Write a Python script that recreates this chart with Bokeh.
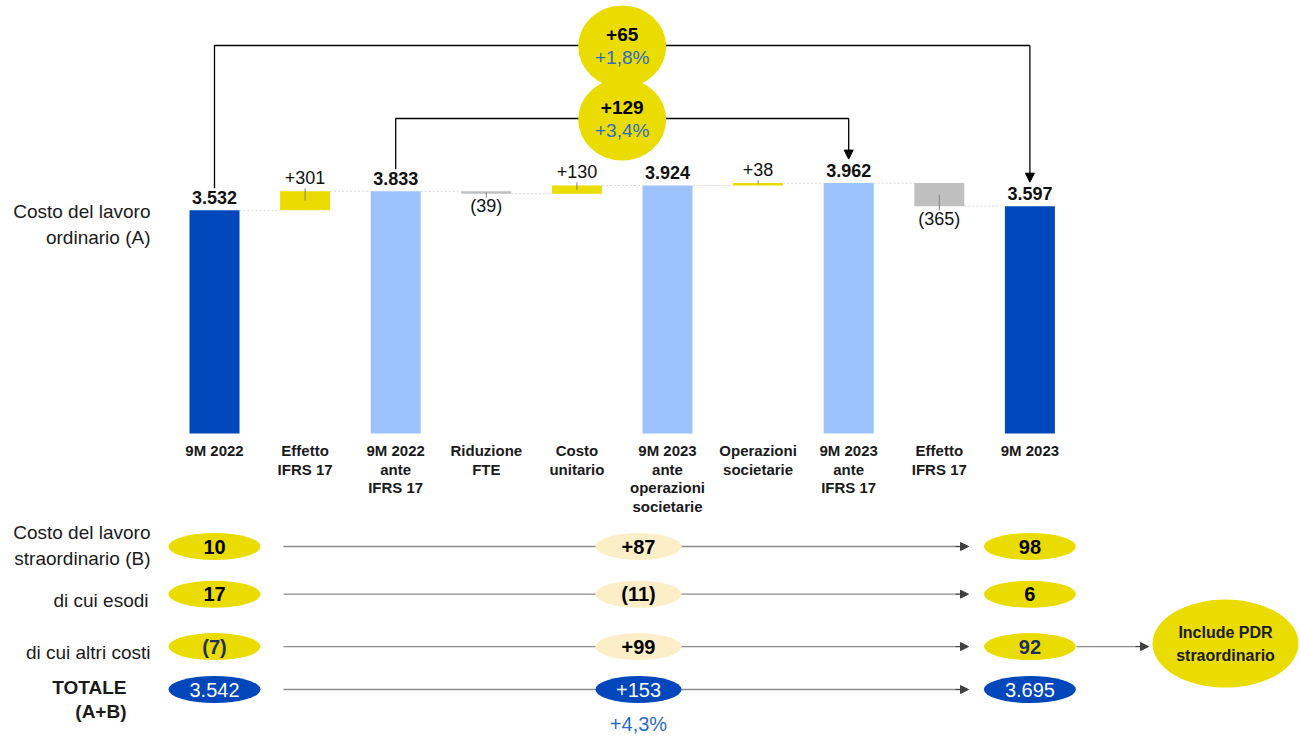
from bokeh.plotting import figure
from bokeh.models import Range1d, Arrow, NormalHead
from bokeh.embed import file_html
from bokeh.resources import INLINE
from bokeh.core.properties import value

# ---------------- DATA ----------------
categories = ["9M 2022", "Effetto\nIFRS 17", "9M 2022\nante\nIFRS 17", "Riduzione\nFTE",
              "Costo\nunitario", "9M 2023\nante\noperazioni\nsocietarie", "Operazioni\nsocietarie",
              "9M 2023\nante\nIFRS 17", "Effetto\nIFRS 17", "9M 2023"]
amounts = [3532, 301, 3833, -39, 130, 3924, 38, 3962, -365, 3597]
kinds = ["total", "delta", "subtotal", "delta", "delta", "subtotal", "delta", "subtotal", "delta", "total"]
bracket_pairs = [(0, 9), (2, 7)]
waterfall_title = ["Costo del lavoro", "ordinario (A)"]

row_labels = [["Costo del lavoro", "straordinario (B)"], ["di cui esodi"], ["di cui altri costi"], ["TOTALE", "(A+B)"]]
extra_2022 = [10, 17, -7, 3542]
extra_delta = [87, -11, 99, 153]
extra_2023 = [98, 6, 92, 3695]
note_lines = ["Include PDR", "straordinario"]
note_row = 2

# ---------------- LAYOUT ----------------
W, H = 1300, 736
FONT = value("Liberation Sans")
SLOT = 90.6
X0 = 214.0            # px of first category centre
PXU = 0.0632          # px per value unit
BASE = 433.0          # px (from top) of value 0
ROW0 = 546.0
ROW_STEP = 47.67
row_pos = [0, 1, 2.1, 3]
BAR_W = 50 / SLOT

YELLOW = "#EBDC00"
CREAM = "#FCEFC7"
DARK = "#0047BB"
LIGHT = "#9DC3FF"
GREY = "#BFBFBF"
PCT_BLUE = "#2E6BC6"
LINE_GREY = "#8C8C8C"
HEAD_GREY = "#404040"


def dy(px):
    return px / PXU


def ylev(px):
    return (BASE - px) / PXU


def rdy(px):
    return px / ROW_STEP


def xs(px):
    return (px - X0) / SLOT


def num(n):
    s = f"{abs(n):,}".replace(",", ".")
    return f"({s})" if n < 0 else s


def delta(n):
    s = f"{abs(n):,}".replace(",", ".")
    return f"({s})" if n < 0 else "+" + s


p = figure(width=W, height=H, output_backend="svg", toolbar_location=None,
           x_range=Range1d(-X0 / SLOT, (W - X0) / SLOT),
           y_range=Range1d(-(H - BASE) / PXU, BASE / PXU),
           min_border=0, min_border_left=0, min_border_right=0,
           min_border_top=0, min_border_bottom=0)
p.extra_y_ranges = {"rows": Range1d((H - ROW0) / ROW_STEP, -ROW0 / ROW_STEP)}
p.xaxis.visible = False
p.yaxis.visible = False
p.grid.visible = False
p.outline_line_color = None
p.background_fill_color = "white"
p.border_fill_color = "white"


def txt(x, y, s, size=18, bold=False, color="#111111", align="center", rng="default"):
    kw = {}
    if rng != "default":
        kw["y_range_name"] = rng
    p.text(x=[x], y=[y], text=[s], text_font=FONT, text_font_size=f"{size}px",
           text_font_style="bold" if bold else "normal", text_color=color,
           text_align=align, text_baseline="middle", **kw)


def head(x0, x1, y, rng="default", color=HEAD_GREY, size=8):
    kw = {}
    if rng != "default":
        kw["y_range_name"] = rng
    p.add_layout(Arrow(x_start=x0, y_start=y, x_end=x1, y_end=y, line_color=color,
                       line_width=1, end=NormalHead(size=size, fill_color=color, line_color=color),
                       **kw))


# ---------------- WATERFALL ----------------
bottoms, tops, colors, levels = [], [], [], []
running = 0
for v, k in zip(amounts, kinds):
    if k == "delta":
        b, t = min(running, running + v), max(running, running + v)
        running += v
        colors.append(YELLOW if v >= 0 else GREY)
    else:
        b, t = 0, v
        running = v
        colors.append(DARK if k == "total" else LIGHT)
    bottoms.append(b)
    tops.append(t)
    levels.append(running)

idx = list(range(len(amounts)))

# dotted connectors
for i in idx[:-1]:
    p.line([i + BAR_W / 2, i + 1 - BAR_W / 2], [levels[i], levels[i]],
           line_color="#D8D8D8", line_width=1, line_dash="2 2")

p.vbar(x=idx, width=BAR_W, bottom=bottoms, top=tops, fill_color=colors, line_color=None)

for i, (v, k) in enumerate(zip(amounts, kinds)):
    if k != "delta":
        txt(i, tops[i] + dy(13), num(v), size=18, bold=True)
    else:
        h_px = (tops[i] - bottoms[i]) * PXU
        if v >= 0:
            txt(i, tops[i] + dy(14), delta(v), size=18)
            p.segment([i], [tops[i] + dy(3)], [i], [tops[i] - dy(min(10, h_px / 2))],
                      line_color="#808080", line_width=1)
        else:
            txt(i, bottoms[i] - dy(12.5), delta(v), size=18)
            p.segment([i], [bottoms[i] - dy(4)], [i], [bottoms[i] + dy(min(12, h_px / 2))],
                      line_color="#808080", line_width=1)

# category labels
for i, c in enumerate(categories):
    for j, line in enumerate(c.split("\n")):
        txt(i, ylev(450 + j * 18.7), line, size=15, bold=True, color="#1A1A1A")

# left title
txt(xs(150), ylev(211), waterfall_title[0], size=19, align="right", color="#1A1A1A")
txt(xs(150), ylev(237), waterfall_title[1], size=19, align="right", color="#1A1A1A")

# brackets
bracket_levels = [45, 118]
for (s, e), lev_px in zip(bracket_pairs, bracket_levels):
    yl = ylev(lev_px)
    p.line([s, s, e], [tops[s] + dy(22), yl, yl], line_color="black", line_width=1.3)
    p.add_layout(Arrow(x_start=e, y_start=yl, x_end=e, y_end=tops[e] + dy(24),
                       line_color="black", line_width=1.3,
                       end=NormalHead(size=9, fill_color="black", line_color="black")))
    mid = (s + e) / 2
    diff = amounts[e] - amounts[s]
    pct = diff / amounts[s] * 100
    p.ellipse(x=[mid], y=[yl - dy(1)], width=[88], height=[82], width_units="screen",
              height_units="screen", fill_color=YELLOW, line_color=None)
    txt(mid, yl + dy(11), delta(diff), size=19, bold=True, color="black")
    txt(mid, yl - dy(12), ("+" if pct >= 0 else "") + f"{pct:.1f}%".replace(".", ","),
        size=19, color=PCT_BLUE)

# ---------------- TABLE ----------------
XL, XM, XR = 0, xs(638), 9
for r in range(4):
    y = row_pos[r]
    is_total = r == 3
    p.segment([xs(283)], [y], [xs(962)], [y], line_color=LINE_GREY, line_width=1.3,
              y_range_name="rows")
    head(xs(955), xs(968), y, rng="rows")
    side_col = DARK if is_total else YELLOW
    mid_col = DARK if is_total else CREAM
    p.ellipse(x=[XL, XM, XR], y=[y, y, y], width=[92, 86, 92], height=[27, 27, 27],
              width_units="screen", height_units="screen",
              fill_color=[side_col, mid_col, side_col], line_color=None, y_range_name="rows")
    tcol = "white" if is_total else ("#1F2F5F" if r == 2 else "black")
    mcol = "white" if is_total else "black"
    txt(XL, y, num(extra_2022[r]), size=20, bold=not is_total, color=tcol, rng="rows")
    txt(XM, y, delta(extra_delta[r]), size=20, bold=not is_total, color=mcol, rng="rows")
    txt(XR, y, num(extra_2023[r]), size=20, bold=not is_total, color=tcol, rng="rows")

# row labels
label_offsets = [[-14, 12], [6], [6], [-2, 22]]
label_right = [150, 148, 150, 126]
for r, lines in enumerate(row_labels):
    for line, off in zip(lines, label_offsets[r]):
        txt(xs(label_right[r]), row_pos[r] + rdy(off), line, size=19,
            bold=(r == 3), align="right", color="#1A1A1A", rng="rows")

# total percent
tot_pct = extra_delta[3] / extra_2022[3] * 100
txt(XM, row_pos[3] + rdy(34), "+" + f"{tot_pct:.1f}%".replace(".", ","), size=20,
    color=PCT_BLUE, rng="rows")

# note bubble
yn = row_pos[note_row]
p.segment([xs(1076)], [yn], [xs(1142)], [yn], line_color=LINE_GREY, line_width=1.3,
          y_range_name="rows")
head(xs(1135), xs(1148), yn, rng="rows")
xn = xs(1225)
p.ellipse(x=[xn], y=[yn - rdy(3)], width=[146], height=[88], width_units="screen",
          height_units="screen", fill_color=YELLOW, line_color=None, y_range_name="rows")
txt(xn, yn - rdy(14), note_lines[0], size=16, bold=True, color="#1A1A1A", rng="rows")
txt(xn, yn + rdy(9), note_lines[1], size=16, bold=True, color="#1A1A1A", rng="rows")

open("out.html", "w").write(file_html(p, INLINE))
